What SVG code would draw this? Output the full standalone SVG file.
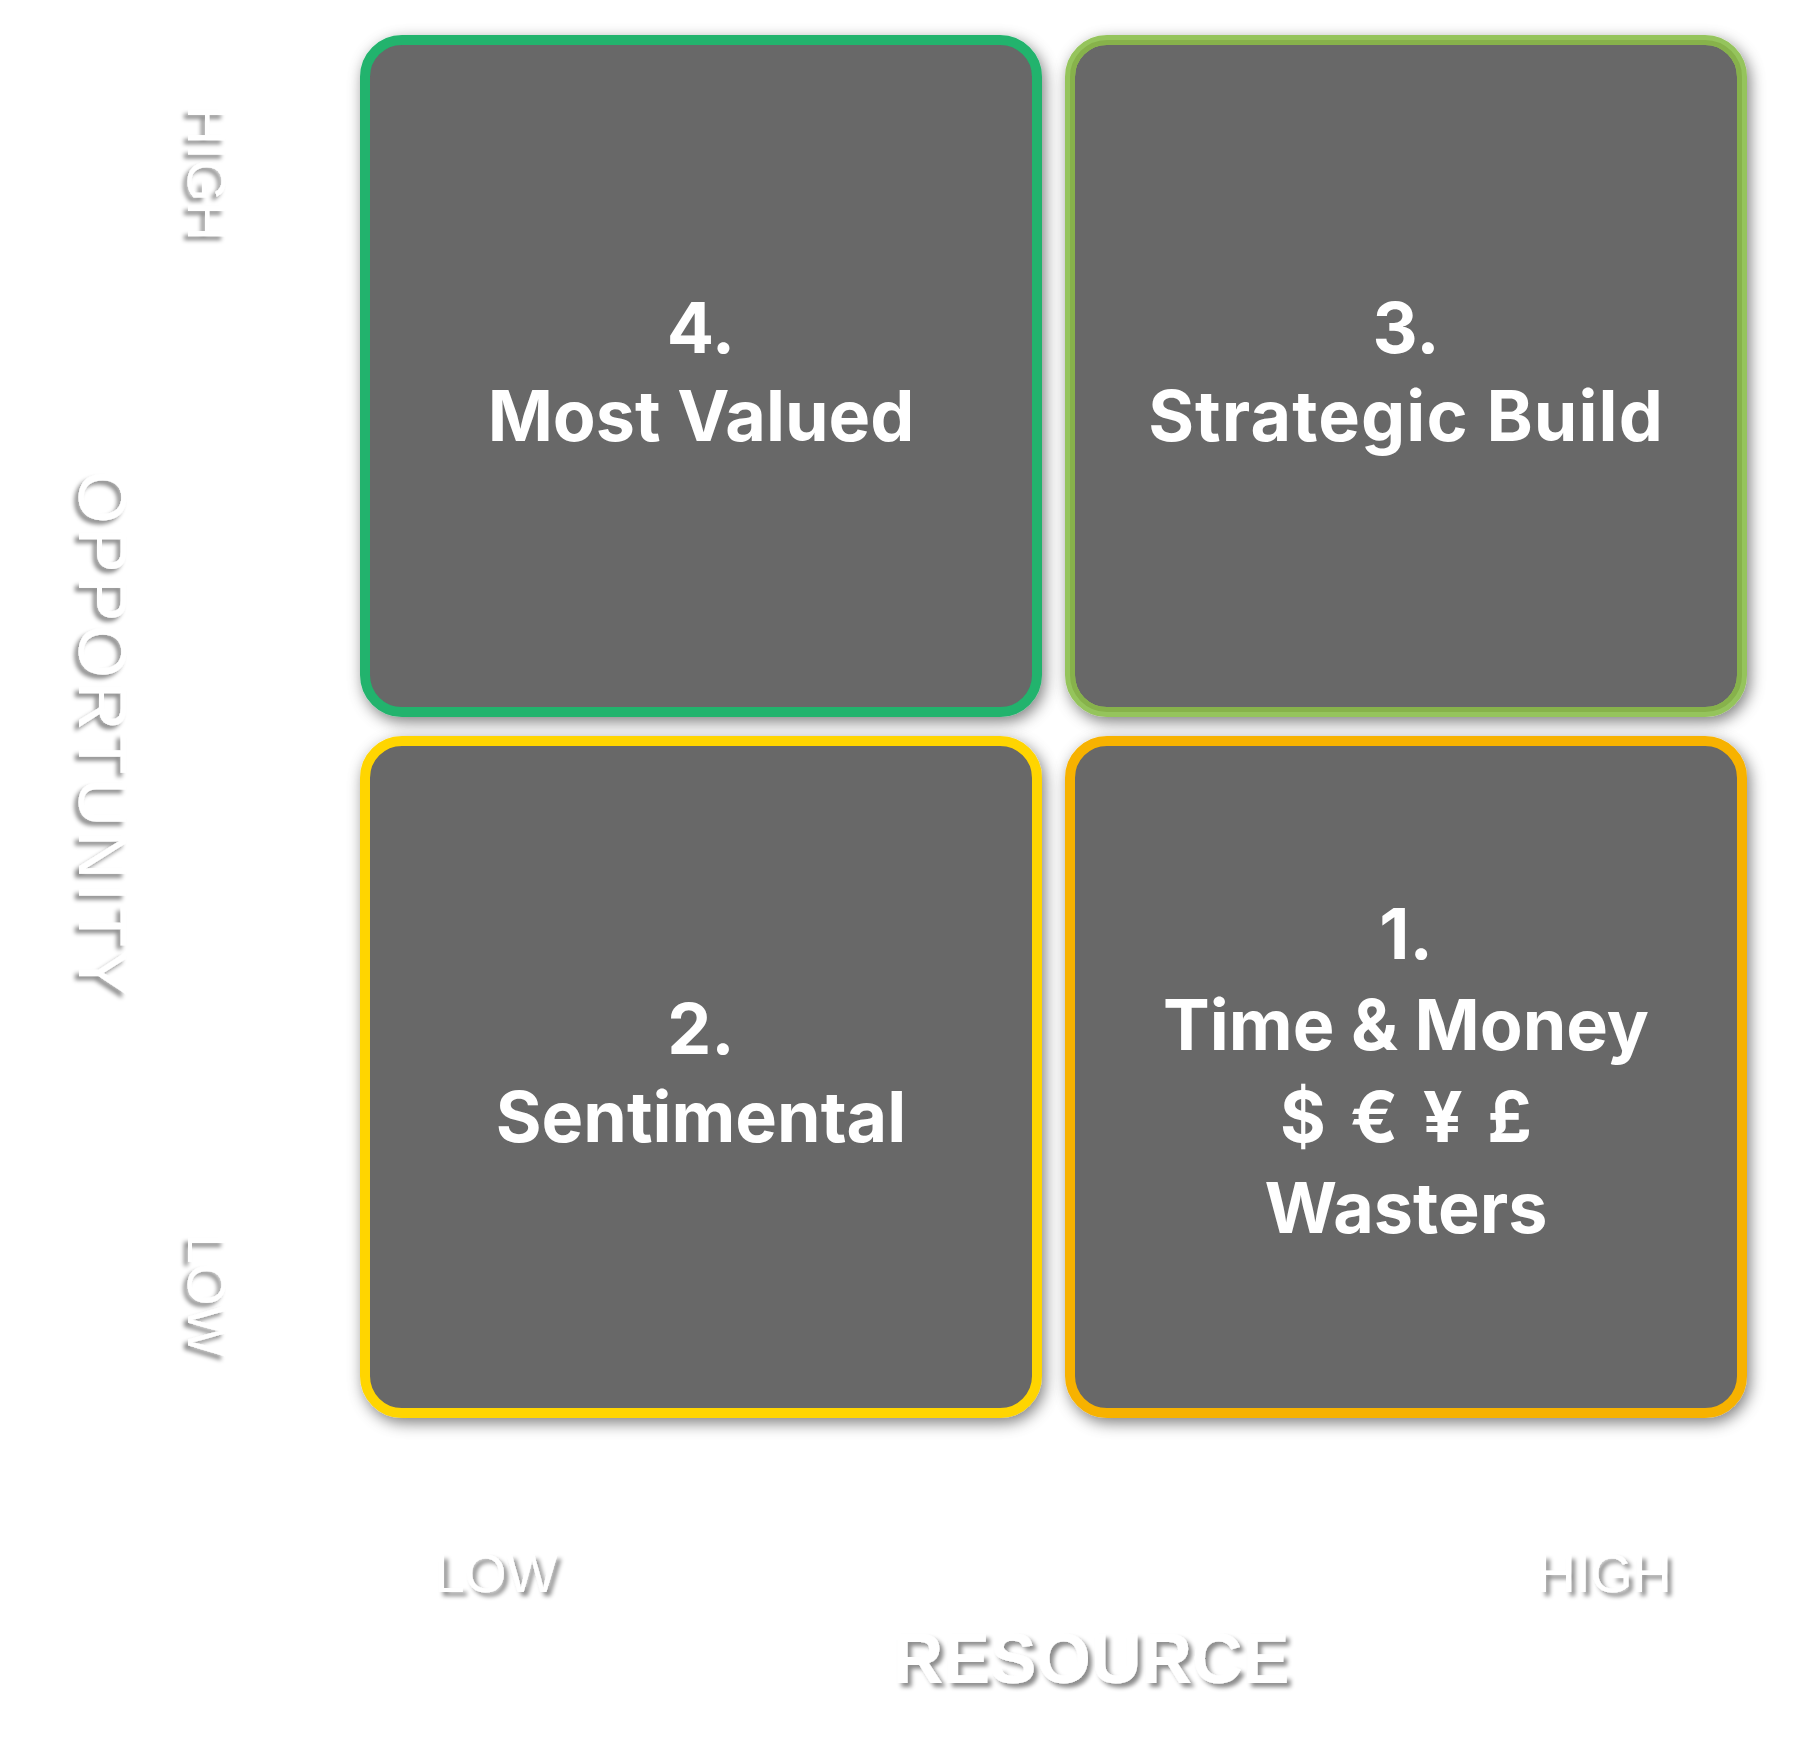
<svg xmlns="http://www.w3.org/2000/svg" width="1796" height="1764" viewBox="0 0 1796 1764">
  <defs>
    <filter id="boxShadow" x="-10%" y="-10%" width="120%" height="120%">
      <feGaussianBlur in="SourceAlpha" stdDeviation="7.5"/>
      <feOffset dx="3" dy="5" result="b"/>
      <feFlood flood-color="#000" flood-opacity="0.5"/>
      <feComposite in2="b" operator="in" result="s"/>
      <feMerge><feMergeNode in="s"/><feMergeNode in="SourceGraphic"/></feMerge>
    </filter>
    <filter id="textShadow" x="-20%" y="-40%" width="140%" height="180%">
      <feGaussianBlur in="SourceAlpha" stdDeviation="2"/>
      <feOffset dx="4" dy="4" result="b"/>
      <feFlood flood-color="#000" flood-opacity="0.45"/>
      <feComposite in2="b" operator="in" result="s"/>
      <feMerge><feMergeNode in="s"/><feMergeNode in="SourceGraphic"/></feMerge>
    </filter>
  </defs>
  <style>
    .box { fill: #676767; stroke-width: 10; filter: url(#boxShadow); }
    .lbl { font-family: Inter, "Liberation Sans", sans-serif; font-weight: 700; font-size: 70px; fill: #ffffff; text-anchor: middle; }
    .axis { font-family: "Liberation Sans", Arial, sans-serif; fill: #ffffff; text-anchor: middle; filter: url(#textShadow); }
    .tick { font-size: 54px; font-weight: 400; }
    .title { font-size: 68px; font-weight: 400; letter-spacing: 3.5px; }
    .titleB { font-size: 70px; font-weight: 700; }
  </style>
  <rect width="1796" height="1764" fill="#ffffff"/>

  <g id="connectors"></g>

  <g id="q4-most-valued">
    <rect class="box" x="365" y="40" width="672" height="672" rx="37" ry="37" stroke="#21B36D"/>
    <text class="lbl" x="701" y="353">4.</text>
    <text class="lbl" x="701" y="441">Most Valued</text>
  </g>

  <g id="q3-strategic-build">
    <rect class="box" x="1070" y="40" width="672" height="672" rx="37" ry="37" stroke="#95C45B"/>
    <rect x="1072.5" y="42.5" width="667" height="667" rx="34.5" ry="34.5" fill="none" stroke="#87B24B" stroke-width="5"/>
    <text class="lbl" x="1406" y="353">3.</text>
    <text class="lbl" x="1406" y="441" letter-spacing="1.1">Strategic Build</text>
  </g>

  <g id="q2-sentimental">
    <rect class="box" x="365" y="741" width="672" height="672" rx="37" ry="37" stroke="#FFD500"/>
    <text class="lbl" x="701" y="1054">2.</text>
    <text class="lbl" x="701" y="1142">Sentimental</text>
  </g>

  <g id="q1-time-money-wasters">
    <rect class="box" x="1070" y="741" width="672" height="672" rx="37" ry="37" stroke="#F7B200"/>
    <text class="lbl" x="1406" y="959">1.</text>
    <text class="lbl" x="1406" y="1050">Time &amp; Money</text>
    <text class="lbl" x="1406" y="1142" word-spacing="8">$ € ¥ £</text>
    <text class="lbl" x="1406" y="1233">Wasters</text>
  </g>

  <g id="y-axis">
    <text class="axis tick" transform="translate(188,173) rotate(90)">HIGH</text>
    <text class="axis tick" transform="translate(188,1295) rotate(90)">LOW</text>
    <text class="axis title" transform="translate(79,735) rotate(90)">OPPORTUNITY</text>
  </g>

  <g id="x-axis">
    <text class="axis tick" x="496" y="1592">LOW</text>
    <text class="axis tick" x="1604" y="1592">HIGH</text>
    <text class="axis titleB" x="1091" y="1683">RESOURCE</text>
  </g>
</svg>
